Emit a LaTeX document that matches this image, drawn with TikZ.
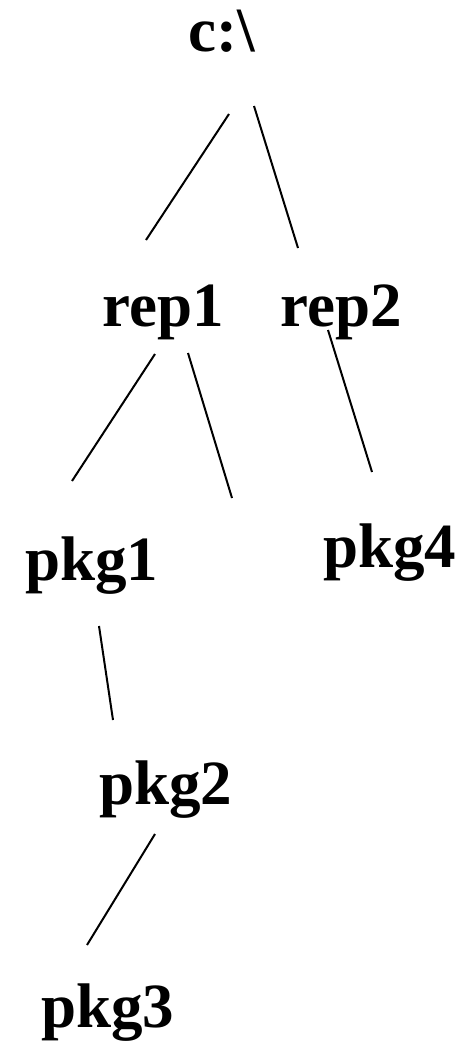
\documentclass[tikz,border=0pt]{standalone}
\usepackage{fontspec}
\setmainfont{Liberation Serif}
\begin{document}
\begin{tikzpicture}[x=1pt,y=-1pt,
  dirname/.style={anchor=base west,inner sep=0pt,font=\fontsize{63}{70}\selectfont\bfseries},
  branch/.style={line width=2pt}]
\useasboundingbox (0,0) rectangle (471,1041);
% directory names
\node[dirname] (root) at (188,52) {c:\textbackslash};
\node[dirname] (rep1) at (102,326) {rep1};
\node[dirname] (rep2) at (280,326) {rep2};
\node[dirname] (pkg1) at (25,580) {pkg1};
\node[dirname] (pkg4) at (323,567) {pkg4};
\node[dirname] (pkg2) at (99,804) {pkg2};
\node[dirname] (pkg3) at (41,1027) {pkg3};
% branch end points
\coordinate (rootL) at (229,114);
\coordinate (rootR) at (254,106);
\coordinate (rep1T) at (146,240);
\coordinate (rep2T) at (298,248);
\coordinate (rep1L) at (155,354);
\coordinate (rep1R) at (188,353);
\coordinate (pkg1T) at (72,481);
\coordinate (leafT) at (232,498);
\coordinate (rep2B) at (328,330);
\coordinate (pkg4T) at (372,472);
\coordinate (pkg1B) at (99,626);
\coordinate (pkg2T) at (113,720);
\coordinate (pkg2B) at (155,834);
\coordinate (pkg3T) at (87,945);
% branches
\draw[branch] (rootL) -- (rep1T);
\draw[branch] (rootR) -- (rep2T);
\draw[branch] (rep1L) -- (pkg1T);
\draw[branch] (rep1R) -- (leafT);
\draw[branch] (rep2B) -- (pkg4T);
\draw[branch] (pkg1B) -- (pkg2T);
\draw[branch] (pkg2B) -- (pkg3T);
\end{tikzpicture}
\end{document}
